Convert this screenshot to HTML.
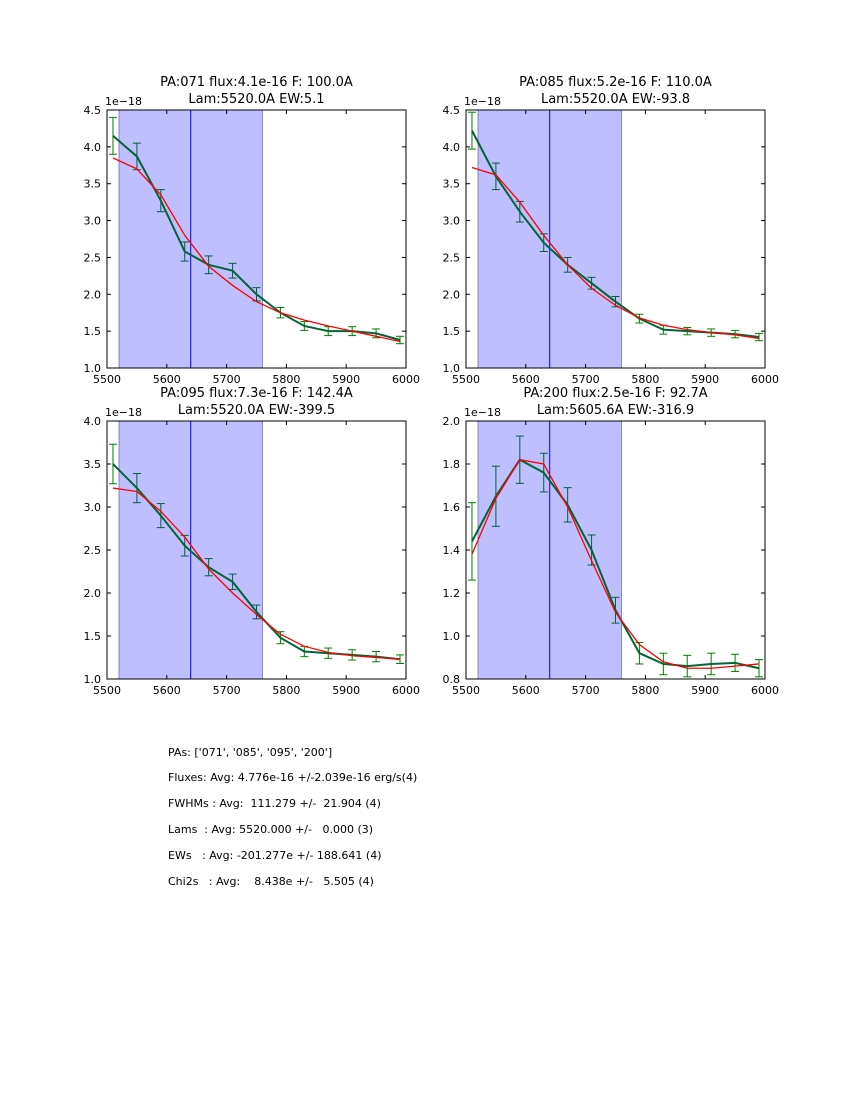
<!DOCTYPE html>
<html><head><meta charset="utf-8">
<style>
body{margin:0;background:#fff;}
svg{display:block;font-family:"DejaVu Sans","Liberation Sans",sans-serif;}
</style></head>
<body>
<svg id="fig" width="850" height="1100" viewBox="0 0 850 1100" xmlns="http://www.w3.org/2000/svg">
<rect width="850" height="1100" fill="#fff"/>
<g id="summary" font-size="11" fill="#000" style="white-space:pre">
<text x="168" y="756" xml:space="preserve">PAs: ['071', '085', '095', '200']</text>
<text x="168" y="781" xml:space="preserve">Fluxes: Avg: 4.776e-16 +/-2.039e-16 erg/s(4)</text>
<text x="168" y="807" xml:space="preserve">FWHMs : Avg:  111.279 +/-  21.904 (4)</text>
<text x="168" y="833" xml:space="preserve">Lams  : Avg: 5520.000 +/-   0.000 (3)</text>
<text x="168" y="859" xml:space="preserve">EWs   : Avg: -201.277e +/- 188.641 (4)</text>
<text x="168" y="885" xml:space="preserve">Chi2s   : Avg:    8.438e +/-   5.505 (4)</text>
</g>
</svg>
<script>
const xs = [5510,5550,5590,5630,5670,5710,5750,5790,5830,5870,5910,5950,5990];
const xTicks = [5500,5600,5700,5800,5900,6000];
const titles1 = ["PA:071 flux:4.1e-16 F: 100.0A","PA:085 flux:5.2e-16 F: 110.0A","PA:095 flux:7.3e-16 F: 142.4A","PA:200 flux:2.5e-16 F: 92.7A"];
const titles2 = ["Lam:5520.0A EW:5.1","Lam:5520.0A EW:-93.8","Lam:5520.0A EW:-399.5","Lam:5605.6A EW:-316.9"];
const obs1 = [4.15,3.87,3.27,2.58,2.40,2.32,2.00,1.75,1.57,1.50,1.50,1.47,1.38];
const err1 = [0.25,0.18,0.15,0.13,0.12,0.10,0.09,0.07,0.06,0.06,0.06,0.06,0.05];
const fit1 = [3.85,3.70,3.35,2.80,2.38,2.12,1.90,1.75,1.65,1.57,1.50,1.43,1.36];
const obs2 = [4.22,3.60,3.12,2.70,2.40,2.15,1.90,1.67,1.52,1.50,1.48,1.46,1.42];
const err2 = [0.25,0.18,0.14,0.12,0.10,0.08,0.07,0.06,0.06,0.05,0.05,0.05,0.05];
const fit2 = [3.72,3.62,3.25,2.80,2.40,2.08,1.85,1.68,1.58,1.52,1.48,1.45,1.40];
const obs3 = [3.50,3.22,2.90,2.55,2.30,2.13,1.78,1.48,1.32,1.30,1.28,1.26,1.23];
const err3 = [0.23,0.17,0.14,0.12,0.10,0.09,0.08,0.07,0.06,0.06,0.06,0.06,0.05];
const fit3 = [3.22,3.18,2.95,2.65,2.28,2.00,1.75,1.52,1.38,1.31,1.27,1.25,1.23];
const obs4 = [1.44,1.65,1.82,1.76,1.61,1.40,1.12,0.92,0.87,0.86,0.87,0.875,0.85];
const err4 = [0.18,0.14,0.11,0.09,0.08,0.07,0.06,0.05,0.05,0.05,0.05,0.04,0.04];
const fit4 = [1.38,1.64,1.82,1.80,1.60,1.35,1.11,0.96,0.88,0.85,0.85,0.86,0.87];
const yTicks1 = [1.0,1.5,2.0,2.5,3.0,3.5,4.0,4.5];
const yTicks3 = [1.0,1.5,2.0,2.5,3.0,3.5,4.0];
const yTicks4 = [0.8,1.0,1.2,1.4,1.6,1.8,2.0];
const shadeRange = [5520,5760];
const lineX = 5640;

const NS="http://www.w3.org/2000/svg";
const svg=document.getElementById('fig');
function mk(tag,attrs,parent){const e=document.createElementNS(NS,tag);for(const k in attrs)e.setAttribute(k,attrs[k]);(parent||svg).appendChild(e);return e;}

const panels=[
 {L:107,R:406,T:110,B:368,obs:obs1,err:err1,fit:fit1,yt:yTicks1,i:0},
 {L:466,R:765,T:110,B:368,obs:obs2,err:err2,fit:fit2,yt:yTicks1,i:1},
 {L:107,R:406,T:421,B:679,obs:obs3,err:err3,fit:fit3,yt:yTicks3,i:2},
 {L:466,R:765,T:421,B:679,obs:obs4,err:err4,fit:fit4,yt:yTicks4,i:3}
];
panels.forEach(p=>{
 const g=mk('g',{});
 
 
 const x0=xTicks[0],x1=xTicks[xTicks.length-1],y0=p.yt[0],y1=p.yt[p.yt.length-1];
 const sx=v=>p.L+(v-x0)/(x1-x0)*(p.R-p.L);
 const sy=v=>p.B-(v-y0)/(y1-y0)*(p.B-p.T);
 const cid='clip'+p.i;
 const cp=mk('clipPath',{id:cid},g);mk('rect',{x:p.L,y:p.T,width:p.R-p.L,height:p.B-p.T},cp);
 const pg=mk('g',{'clip-path':'url(#'+cid+')'},g);
 xs.forEach((x,j)=>{
  const X=sx(x),a=sy(p.obs[j]-p.err[j]),b=sy(p.obs[j]+p.err[j]);
  const eg=mk('g',{stroke:'#008000','stroke-width':1},pg);
  
  
  mk('line',{x1:X,y1:a,x2:X,y2:b},eg);
  mk('line',{x1:X-4,y1:a,x2:X+4,y2:a},eg);
  mk('line',{x1:X-4,y1:b,x2:X+4,y2:b},eg);
 });
 const sh=mk('rect',{x:sx(shadeRange[0]),y:p.T,width:sx(shadeRange[1])-sx(shadeRange[0]),height:p.B-p.T,fill:'#0000ff','fill-opacity':0.25,stroke:'#000080','stroke-opacity':0.4},pg);
 
 
 const vl=mk('line',{x1:sx(lineX),y1:p.T,x2:sx(lineX),y2:p.B,stroke:'#0000ff','stroke-width':1},pg);
 
 
 const ol=mk('polyline',{points:xs.map((x,j)=>sx(x)+','+sy(p.obs[j])).join(' '),fill:'none',stroke:'#006633','stroke-width':2},pg);
 
 
 const fl=mk('polyline',{points:xs.map((x,j)=>sx(x)+','+sy(p.fit[j])).join(' '),fill:'none',stroke:'#ff0000','stroke-width':1.3},pg);
 
 
 mk('rect',{x:p.L,y:p.T,width:p.R-p.L,height:p.B-p.T,fill:'none',stroke:'#000','stroke-width':1},g);
 xTicks.forEach(t=>{const X=sx(t);
  mk('line',{x1:X,y1:p.B,x2:X,y2:p.B-4,stroke:'#000'},g);
  mk('line',{x1:X,y1:p.T,x2:X,y2:p.T+4,stroke:'#000'},g);
  const tx=mk('text',{x:X,y:p.B+15,'font-size':11,'text-anchor':'middle'},g);tx.textContent=t;
  
  
 });
 p.yt.forEach(t=>{const Y=sy(t);
  mk('line',{x1:p.L,y1:Y,x2:p.L+4,y2:Y,stroke:'#000'},g);
  mk('line',{x1:p.R,y1:Y,x2:p.R-4,y2:Y,stroke:'#000'},g);
  const tx=mk('text',{x:p.L-6,y:Y+4,'font-size':11,'text-anchor':'end'},g);tx.textContent=t.toFixed(1);
  
  
 });
 const ex=mk('text',{x:p.L-2,y:p.T-5,'font-size':11},g);ex.textContent='1e\u221218';
 
 
 const cx=(p.L+p.R)/2;
 const t1=mk('text',{x:cx,y:p.T-24,'font-size':13,'text-anchor':'middle'},g);t1.textContent=titles1[p.i];
 
 
 const t2=mk('text',{x:cx,y:p.T-7,'font-size':13,'text-anchor':'middle'},g);t2.textContent=titles2[p.i];
 
 
});
</script>
</body></html>
